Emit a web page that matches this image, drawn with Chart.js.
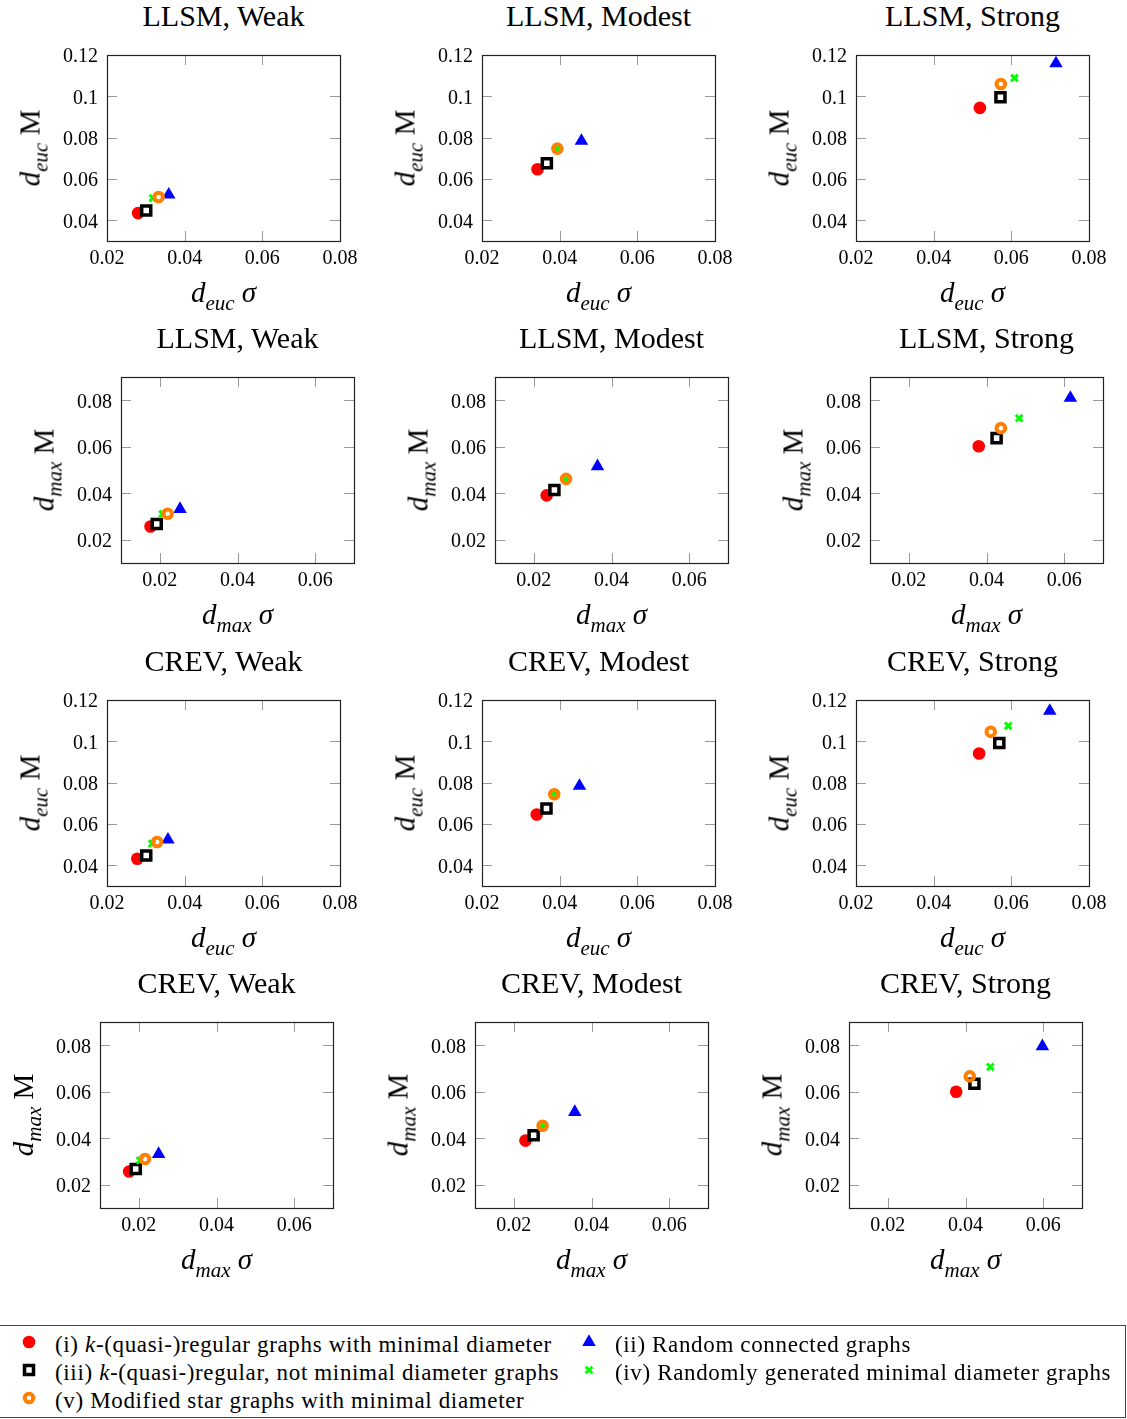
<!DOCTYPE html>
<html><head><meta charset="utf-8">
<script src="https://cdn.jsdelivr.net/npm/chart.js@4"></script>
<style>
body{margin:0;width:1127px;height:1419px;position:relative;background:#fff;font-family:"Liberation Serif",serif;overflow:hidden;color:#000}
canvas{position:absolute}
.lab{position:absolute;white-space:nowrap;transform:translate(-50%,-50%);line-height:1}
.title{font-size:30px}
.axl{font-size:29px}
.rot{transform:translate(-50%,-50%) rotate(-90deg)}
.sub{font-size:21px;font-style:italic;position:relative;top:8px}
#legend{position:absolute;left:0;top:1325px;width:1125px;height:91px;border:1px solid #444;border-left:none}
.li{position:absolute;font-size:23px;letter-spacing:0.65px;white-space:nowrap;transform:translateY(-50%);line-height:1}
.mk{position:absolute;transform:translate(-50%,-50%)}
</style></head>
<body>
<div id="legend"></div>
<script>
// ---------------- DATA ----------------
const panelTitles = ['LLSM, Weak','LLSM, Modest','LLSM, Strong',
                     'LLSM, Weak','LLSM, Modest','LLSM, Strong',
                     'CREV, Weak','CREV, Modest','CREV, Strong',
                     'CREV, Weak','CREV, Modest','CREV, Strong'];
const panelMetric = ['euc','euc','euc','max','max','max','euc','euc','euc','max','max','max'];
const seriesNames = ['(i) k-(quasi-)regular graphs with minimal diameter',
                     '(ii) Random connected graphs',
                     '(iii) k-(quasi-)regular, not minimal diameter graphs',
                     '(iv) Randomly generated minimal diameter graphs',
                     '(v) Modified star graphs with minimal diameter'];
// x = sigma, y = M ; one value per panel (12 panels, row by row)
const regMinX   = [0.0280,0.0343,0.0519, 0.0176,0.0233,0.0380, 0.0278,0.0341,0.0517, 0.0175,0.0230,0.0376];
const regMinY   = [0.0435,0.0647,0.0944, 0.0257,0.0391,0.0602, 0.0432,0.0646,0.0941, 0.0257,0.0390,0.0600];
const randConX  = [0.0359,0.0456,0.0715, 0.0252,0.0364,0.0616, 0.0357,0.0451,0.0699, 0.0251,0.0357,0.0598];
const randConY  = [0.0524,0.0784,0.1159, 0.0332,0.0516,0.0810, 0.0524,0.0784,0.1147, 0.0332,0.0513,0.0795];
const regNotX   = [0.0301,0.0367,0.0572, 0.0192,0.0253,0.0426, 0.0301,0.0366,0.0569, 0.0192,0.0251,0.0423];
const regNotY   = [0.0448,0.0676,0.0996, 0.0268,0.0414,0.0637, 0.0448,0.0675,0.0992, 0.0268,0.0413,0.0634];
const randMinX  = [0.0318,0.0394,0.0608, 0.0207,0.0283,0.0484, 0.0316,0.0386,0.0592, 0.0203,0.0274,0.0464];
const randMinY  = [0.0508,0.0747,0.1089, 0.0311,0.0462,0.0723, 0.0505,0.0744,0.1075, 0.0305,0.0454,0.0707];
const starX     = [0.0333,0.0394,0.0573, 0.0220,0.0283,0.0437, 0.0329,0.0386,0.0547, 0.0216,0.0274,0.0411];
const starY     = [0.0513,0.0747,0.1060, 0.0312,0.0462,0.0680, 0.0513,0.0744,0.1046, 0.0311,0.0454,0.0666];
// axis ranges and ticks
const eucXRange = [0.02,0.08], eucYRange = [0.03,0.12];
const maxXRange = [0.01,0.07], maxYRange = [0.01,0.09];
const eucXTicks = [0.02,0.04,0.06,0.08];
const eucYTicks = [0.04,0.06,0.08,0.1,0.12];
const maxXTicks = [0.02,0.04,0.06];
const maxYTicks = [0.02,0.04,0.06,0.08];

// ---------------- LAYOUT / STYLE ----------------
const PW = 233, PH = 186;
const rowTops = [55,377,700,1022];
const rowLefts = [[107,482,856],[121,495,870],[107,482,856],[100,475,849]];
const PADL = 80, PADT = 12, PADR = 22, XH = 45;
const tickFont = {family:'Liberation Serif', size:20};
const styles = [
  {label:seriesNames[0], X:regMinX, Y:regMinY, pointStyle:'circle', radius:6.3, backgroundColor:'rgb(255,0,0)', borderColor:'rgb(255,0,0)', borderWidth:0, order:5},
  {label:seriesNames[1], X:randConX, Y:randConY, pointStyle:'triangle', radius:7.8, backgroundColor:'rgb(0,0,255)', borderColor:'rgb(0,0,255)', borderWidth:0, order:4},
  {label:seriesNames[2], X:regNotX, Y:regNotY, pointStyle:'rect', radius:6.4, backgroundColor:'#fff', borderColor:'#000', borderWidth:3.5, order:3},
  {label:seriesNames[3], X:randMinX, Y:randMinY, pointStyle:'crossRot', radius:4.7, backgroundColor:'rgb(0,255,0)', borderColor:'rgb(0,255,0)', borderWidth:3, order:2},
  {label:seriesNames[4], X:starX, Y:starY, pointStyle:'circle', radius:4.3, backgroundColor:'rgba(0,0,0,0)', borderColor:'rgb(255,128,0)', borderWidth:4, order:1}
];
const fmt = v => String(parseFloat(Number(v).toFixed(3)));

const framePlugin = {
  id:'frame',
  beforeDatasetsDraw(chart){
    const {ctx, chartArea:a, scales} = chart;
    ctx.save();
    ctx.strokeStyle = '#9a9a9a'; ctx.lineWidth = 1;
    ctx.beginPath();
    scales.x.ticks.forEach(t=>{
      const x = Math.round(scales.x.getPixelForValue(t.value))+0.5;
      ctx.moveTo(x,a.top); ctx.lineTo(x,a.top+10);
      ctx.moveTo(x,a.bottom); ctx.lineTo(x,a.bottom-10);
    });
    scales.y.ticks.forEach(t=>{
      const y = Math.round(scales.y.getPixelForValue(t.value))+0.5;
      ctx.moveTo(a.left,y); ctx.lineTo(a.left+10,y);
      ctx.moveTo(a.right,y); ctx.lineTo(a.right-10,y);
    });
    ctx.stroke();
    ctx.strokeStyle = '#222'; ctx.lineWidth = 1.2;
    ctx.strokeRect(Math.round(a.left)+0.5, Math.round(a.top)+0.5, Math.round(a.right-a.left), Math.round(a.bottom-a.top));
    ctx.restore();
  }
};

function addLabel(html, cls, x, y){
  const d = document.createElement('div');
  d.className = 'lab ' + cls; d.innerHTML = html;
  d.style.left = x+'px'; d.style.top = y+'px';
  document.body.appendChild(d);
}

for (let p = 0; p < 12; p++){
  const r = Math.floor(p/3), c = p%3;
  const L = rowLefts[r][c], T = rowTops[r];
  const m = panelMetric[p];
  const xr = m==='euc'?eucXRange:maxXRange, yr = m==='euc'?eucYRange:maxYRange;
  const xt = m==='euc'?eucXTicks:maxXTicks, yt = m==='euc'?eucYTicks:maxYTicks;
  const cv = document.createElement('canvas');
  const W = PADL+PW+PADR, H = PADT+PH+XH;
  cv.width = W; cv.height = H;
  cv.style.left = (L-PADL)+'px'; cv.style.top = (T-PADT)+'px';
  cv.style.width = W+'px'; cv.style.height = H+'px';
  document.body.appendChild(cv);
  new Chart(cv, {
    type:'scatter',
    data:{datasets: styles.map(s=>({
      label:s.label, data:[{x:s.X[p], y:s.Y[p]}],
      pointStyle:s.pointStyle, pointRadius:s.radius, pointHoverRadius:s.radius,
      pointBackgroundColor:s.backgroundColor, pointBorderColor:s.borderColor,
      pointBorderWidth:s.borderWidth, order:s.order, clip:false
    }))},
    options:{
      responsive:false, animation:false, devicePixelRatio:1,
      events:[],
      layout:{padding:{left:0,top:PADT,right:PADR,bottom:0}, autoPadding:false},
      plugins:{legend:{display:false}, tooltip:{enabled:false}, title:{display:false}},
      scales:{
        x:{type:'linear', min:xr[0], max:xr[1],
           afterBuildTicks:s=>{s.ticks = xt.map(v=>({value:v}));},
           afterFit:s=>{s.height = XH; s.paddingLeft = 0; s.paddingRight = 0;},
           grid:{display:false, drawTicks:false}, border:{display:false},
           ticks:{font:tickFont, color:'#000', padding:6, autoSkip:false, maxRotation:0, callback:v=>fmt(v)}},
        y:{type:'linear', min:yr[0], max:yr[1],
           afterBuildTicks:s=>{s.ticks = yt.map(v=>({value:v}));},
           afterFit:s=>{s.width = PADL; s.paddingTop = 0; s.paddingBottom = 0;},
           grid:{display:false, drawTicks:false}, border:{display:false},
           ticks:{font:tickFont, color:'#000', padding:9, labelOffset:2, autoSkip:false, callback:v=>fmt(v)}}
      }
    },
    plugins:[framePlugin]
  });
  const cx = L + PW/2;
  addLabel(panelTitles[p], 'title', cx, T-39);
  const sub = m==='euc'?'euc':'max';
  addLabel('<i>d</i><span class="sub">'+sub+'</span> <i>σ</i>', 'axl', cx, T+PH+51);
  addLabel('<i>d</i><span class="sub">'+sub+'</span> M', 'axl rot', L-77, T+PH/2);
}

// ---------------- LEGEND ----------------
const legendPos = [[29,1344],[589,1344],[29,1372],[589,1372],[29,1400]];
const legendOrder = [0,1,2,3,4];
function markerSVG(i){
  let shape = '';
  if (i===0) shape = '<circle cx="10" cy="10" r="6.3" fill="rgb(255,0,0)"/>';
  if (i===1) shape = '<polygon points="10,2.2 16.75,13.9 3.25,13.9" fill="rgb(0,0,255)"/>';
  if (i===2) shape = '<rect x="5.5" y="5.5" width="9" height="9" fill="#fff" stroke="#000" stroke-width="3.5"/>';
  if (i===3) shape = '<path d="M6.7,6.7L13.3,13.3M13.3,6.7L6.7,13.3" stroke="rgb(0,255,0)" stroke-width="3"/>';
  if (i===4) shape = '<circle cx="10" cy="10" r="4.3" fill="none" stroke="rgb(255,128,0)" stroke-width="4"/>';
  return '<svg width="20" height="20">'+shape+'</svg>';
}
const leg = document.body;
legendOrder.forEach(i=>{
  const [x,y] = legendPos[i];
  const m = document.createElement('div'); m.className='mk'; m.innerHTML = markerSVG(i);
  m.style.left = x+'px'; m.style.top = y+'px'; leg.appendChild(m);
  const t = document.createElement('div'); t.className='li';
  t.innerHTML = seriesNames[i].replace(/ k-/, ' <i>k</i>-');
  t.style.left = (x+26)+'px'; t.style.top = y+'px'; leg.appendChild(t);
});
</script>
</body></html>
